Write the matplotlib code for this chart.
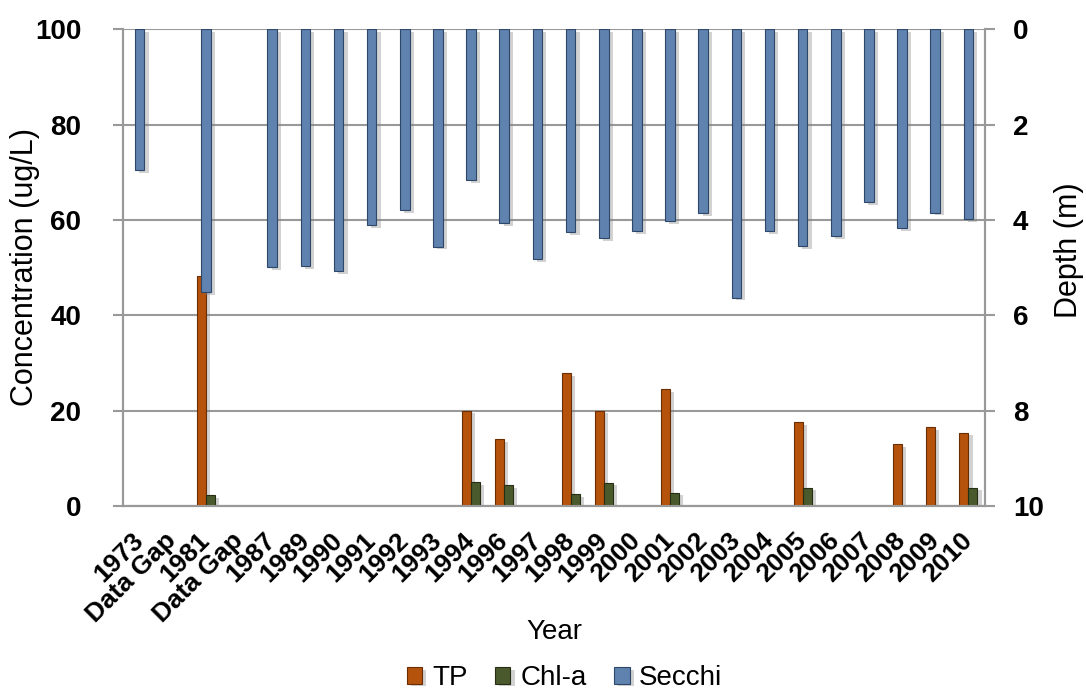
"""Lake water quality: TP, Chl-a concentration and Secchi depth by year."""

import matplotlib.pyplot as plt
import matplotlib.patheffects as pe
import numpy as np

plt.rcParams["font.family"] = ["Liberation Sans", "DejaVu Sans"]

years = ["1973", "Data Gap", "1981", "Data Gap", "1987", "1989", "1990", "1991",
         "1992", "1993", "1994", "1996", "1997", "1998", "1999", "2000", "2001",
         "2002", "2003", "2004", "2005", "2006", "2007", "2008", "2009", "2010"]

# concentrations (ug/L), nan = not sampled
tp = [np.nan, np.nan, 48.3, np.nan, np.nan, np.nan, np.nan, np.nan, np.nan, np.nan,
      20.0, 14.0, np.nan, 27.8, 20.0, np.nan, 24.5, np.nan, np.nan, np.nan,
      17.5, np.nan, np.nan, 12.9, 16.5, 15.4]
chla = [np.nan, np.nan, 2.3, np.nan, np.nan, np.nan, np.nan, np.nan, np.nan, np.nan,
        5.0, 4.4, np.nan, 2.5, 4.9, np.nan, 2.8, np.nan, np.nan, np.nan,
        3.85, np.nan, np.nan, np.nan, np.nan, 3.85]
# Secchi depth (m)
secchi = [2.96, np.nan, 5.51, np.nan, 4.99, 4.97, 5.07, 4.11, 3.79, 4.56, 3.17, 4.07,
          4.82, 4.25, 4.39, 4.23, 4.03, 3.86, 5.63, 4.23, 4.55, 4.34, 3.63, 4.17,
          3.85, 3.98]

x = np.arange(len(years))
w = 0.27
shadow = [pe.SimplePatchShadow(offset=(3, -2), shadow_rgbFace="#808080", alpha=0.35),
          pe.Normal()]

fig = plt.figure(figsize=(10.86, 6.94), dpi=100)
ax = fig.add_axes([0.1133, 0.271, 0.7937, 0.687])
ax2 = ax.twinx()

ax.bar(x - w / 2, tp, width=w, color="#B5520B", edgecolor="#6A2E05",
       linewidth=0.8, label="TP", path_effects=shadow, zorder=3)
ax.bar(x + w / 2, chla, width=w, color="#4B5A2C", edgecolor="#262E15",
       linewidth=0.8, label="Chl-a", path_effects=shadow, zorder=3)
ax2.bar(x, secchi, width=0.29, color="#5F82AF", edgecolor="#2E4668",
        linewidth=0.8, label="Secchi", path_effects=shadow, zorder=3)

ax.set_xlim(-0.5, len(years) - 0.5)
ax.set_ylim(0, 100)
ax.set_yticks(np.arange(0, 101, 20))
ax2.set_ylim(10, 0)
ax2.set_yticks(np.arange(0, 11, 2))

ax.grid(axis="y", color="#999999", linewidth=1.5, zorder=0)
ax.set_axisbelow(True)
for a in (ax, ax2):
    for s in a.spines.values():
        s.set_color("#999999")
        s.set_linewidth(1.5)
    a.spines["top"].set_visible(False)

ax.tick_params(axis="y", length=7, width=1.5, color="#999999", pad=23,
               labelsize=20)
ax2.tick_params(axis="y", length=7, width=1.5, color="#999999", pad=13,
                labelsize=20)
ax.tick_params(axis="x", length=0, pad=22)
for lab in ax.get_yticklabels() + ax2.get_yticklabels():
    lab.set_fontweight("bold")

ax.set_xticks(x)
ax.set_xticklabels(years, rotation=45, ha="right", va="center",
                   rotation_mode="anchor", fontsize=19, fontweight="bold")

fig.text(25 / 1086, 1 - 267 / 694, "Concentration (ug/L)", fontsize=22,
         rotation=90, ha="center", va="center")
fig.text(1069 / 1086, 1 - 250 / 694, "Depth (m)", fontsize=22,
         rotation=90, ha="center", va="center")
fig.text(0.51, 0.089, "Year", fontsize=20, ha="center", va="center")

handles = [h for a in (ax, ax2) for h in a.get_legend_handles_labels()[0]]
labels = [l for a in (ax, ax2) for l in a.get_legend_handles_labels()[1]]
fig.legend(handles, labels, loc="center", bbox_to_anchor=(0.52, 0.023),
           ncol=3, frameon=False, fontsize=20, handlelength=0.55,
           handleheight=0.55, handletextpad=0.35, columnspacing=1.0)

plt.savefig("out.png", dpi=100)
